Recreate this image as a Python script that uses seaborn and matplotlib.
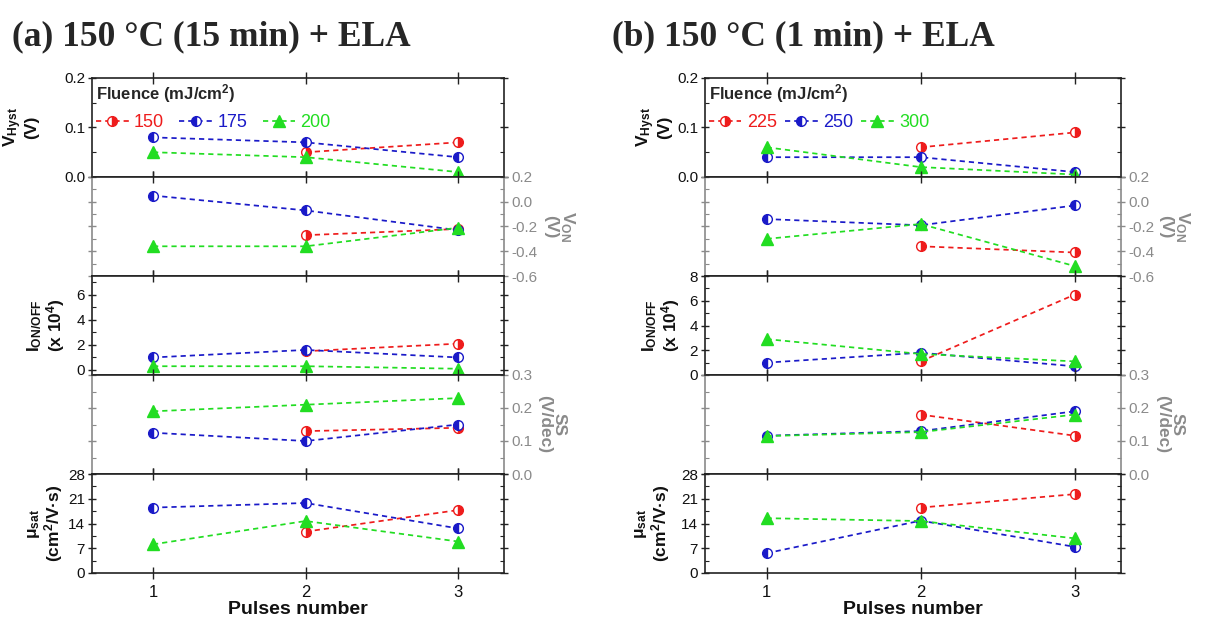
import numpy as np
import pandas as pd
import matplotlib
matplotlib.use("Agg")
import matplotlib.pyplot as plt
from matplotlib.ticker import MultipleLocator
import seaborn as sns

nan = np.nan
pulses = [1, 2, 3]

# ---- (a) 150 C (15 min) + ELA ----
fluence_a = ["150", "175", "200"]
vhyst_a = [[nan, 0.05, 0.07], [0.08, 0.07, 0.04], [0.05, 0.04, 0.01]]
von_a = [[nan, -0.27, -0.22], [0.05, -0.07, -0.23], [-0.36, -0.36, -0.21]]
ionoff_a = [[nan, 1.5, 2.1], [1.0, 1.6, 1.0], [0.3, 0.3, 0.1]]
ss_a = [[nan, 0.13, 0.14], [0.125, 0.10, 0.15], [0.19, 0.21, 0.23]]
mu_a = [[nan, 11.7, 17.8], [18.5, 19.8, 12.6], [8.1, 14.7, 8.9]]

# ---- (b) 150 C (1 min) + ELA ----
fluence_b = ["225", "250", "300"]
vhyst_b = [[nan, 0.06, 0.09], [0.04, 0.04, 0.01], [0.06, 0.02, 0.005]]
von_b = [[nan, -0.36, -0.41], [-0.14, -0.19, -0.03], [-0.30, -0.18, -0.52]]
ionoff_b = [[nan, 1.1, 6.5], [1.0, 1.8, 0.7], [2.9, 1.7, 1.1]]
ss_b = [[nan, 0.18, 0.116], [0.116, 0.13, 0.19], [0.115, 0.127, 0.18]]
mu_b = [[nan, 18.5, 22.3], [5.6, 14.8, 7.4], [15.5, 14.7, 9.8]]

titles = ["(a) 150 \u00b0C (15 min) + ELA", "(b) 150 \u00b0C (1 min) + ELA"]

colors = ["#ee1c1c", "#1a1ac8", "#22dd22"]
GREY = "#8a8a8a"
SPINE = "#222222"

sns.set_theme(style="ticks")
plt.rcParams["font.family"] = ["Liberation Sans", "DejaVu Sans"]
plt.rcParams["mathtext.fontset"] = "custom"
plt.rcParams["mathtext.rm"] = "Liberation Sans"
plt.rcParams["mathtext.bf"] = "Liberation Sans:bold"
plt.rcParams["mathtext.it"] = "Liberation Sans:italic"

W, H = 1207, 621
fig = plt.figure(figsize=(W / 100, H / 100), dpi=100)

tops = [78, 177, 276, 375, 474, 573]
xspans = [(92, 504), (705, 1121)]


def rect(x0, x1, top, bottom):
    return [x0 / W, 1 - bottom / H, (x1 - x0) / W, (bottom - top) / H]


def draw_series(ax, values):
    handles = []
    for i, vals in enumerate(values):
        df = pd.DataFrame({"x": pulses, "y": vals}).dropna()
        c = colors[i]
        if i == 0:
            mk = dict(marker="o", fillstyle="right", markerfacecolor=c,
                      markerfacecoloralt="white", markeredgecolor=c,
                      markersize=7)
        elif i == 1:
            mk = dict(marker="o", fillstyle="left", markerfacecolor=c,
                      markerfacecoloralt="white", markeredgecolor=c,
                      markersize=7)
        else:
            mk = dict(marker="^", markerfacecolor=c, markeredgecolor=c,
                      markersize=8)
        sns.lineplot(data=df, x="x", y="y", ax=ax, color=c, errorbar=None,
                     linestyle=(0, (3, 2.3)), linewidth=1.25,
                     markeredgewidth=1.0, **mk)
        handles.append(ax.lines[-1])
    return handles


panel_specs = {
    "a": dict(fl=fluence_a, data=[vhyst_a, von_a, ionoff_a, ss_a, mu_a],
              ion_lim=(-0.4, 7.5), colsp=0.85,
              lab_left=[53, 0, 25, 0, 27], lab_right=[0, 39, 0, 33, 0]),
    "b": dict(fl=fluence_b, data=[vhyst_b, von_b, ionoff_b, ss_b, mu_b],
              ion_lim=(0, 8), colsp=0.45,
              lab_left=[33, 0, 23, 0, 33], lab_right=[0, 37, 0, 34, 0]),
}

ylabels = [
    "V$_{\\mathbf{Hyst}}$\n(V)",
    "V$_{\\mathbf{ON}}$\n(V)",
    "I$_{\\mathbf{ON/OFF}}$\n(x 10$^{\\mathbf{4}}$)",
    "SS\n(V/dec)",
    "\u03bc$_{\\mathbf{sat}}$\n(cm$^{\\mathbf{2}}$/V\u00b7s)",
]

for col, key in enumerate(["a", "b"]):
    spec = panel_specs[key]
    x0, x1 = xspans[col]
    pw = x1 - x0
    for r in range(5):
        ax = fig.add_axes(rect(x0, x1, tops[r], tops[r + 1]))
        hs = draw_series(ax, spec["data"][r])
        ax.set_xlim(0.6, 3.3)
        ax.set_xticks(pulses)
        right_side = r in (1, 3)
        tcol = GREY if right_side else SPINE
        if r == 0:
            ax.set_ylim(0, 0.2)
            ax.yaxis.set_major_locator(MultipleLocator(0.1))
            ax.yaxis.set_minor_locator(MultipleLocator(0.05))
            ax.yaxis.set_major_formatter(plt.FormatStrFormatter("%.1f"))
        elif r == 1:
            ax.set_ylim(-0.6, 0.2)
            ax.yaxis.set_major_locator(MultipleLocator(0.2))
            ax.yaxis.set_minor_locator(MultipleLocator(0.1))
            ax.yaxis.set_major_formatter(plt.FormatStrFormatter("%.1f"))
        elif r == 2:
            ax.set_ylim(*spec["ion_lim"])
            ax.yaxis.set_major_locator(MultipleLocator(2))
            ax.yaxis.set_minor_locator(MultipleLocator(1))
        elif r == 3:
            ax.set_ylim(0, 0.3)
            ax.yaxis.set_major_locator(MultipleLocator(0.1))
            ax.yaxis.set_minor_locator(MultipleLocator(0.05))
            ax.yaxis.set_major_formatter(plt.FormatStrFormatter("%.1f"))
        else:
            ax.set_ylim(0, 28)
            ax.yaxis.set_major_locator(MultipleLocator(7))
            ax.yaxis.set_minor_locator(MultipleLocator(3.5))

        for s in ["top", "bottom"]:
            ax.spines[s].set_color(SPINE)
            ax.spines[s].set_linewidth(1.2)
        for s in ["left", "right"]:
            ax.spines[s].set_color(tcol)
            ax.spines[s].set_linewidth(1.2)

        ax.tick_params(axis="x", which="major", direction="inout", length=9,
                       width=1.0, top=True, bottom=True, color=SPINE,
                       labelbottom=(r == 4), labelsize=12, pad=4,
                       labelcolor="#111111")
        ax.tick_params(axis="x", which="minor", bottom=False, top=False)
        ax.tick_params(axis="y", which="major", direction="inout", length=6,
                       width=1.0, left=True, right=True, color=tcol,
                       labelleft=not right_side, labelright=right_side,
                       labelsize=11, pad=2,
                       labelcolor=(GREY if right_side else "#111111"))
        ax.tick_params(axis="y", which="minor", direction="in", length=3,
                       width=0.8, left=True, right=True, color=tcol)
        ax.set_xlabel("")
        ax.set_ylabel("")

        if right_side:
            ax.text(1 + spec["lab_right"][r] / pw, 0.5, ylabels[r],
                    transform=ax.transAxes, rotation=270, ha="left",
                    va="center", multialignment="center", fontsize=12.5,
                    fontweight="bold", color=GREY, linespacing=1.0)
        else:
            ax.text(-spec["lab_left"][r] / pw, 0.5, ylabels[r],
                    transform=ax.transAxes, rotation=90, ha="right",
                    va="center", multialignment="center", fontsize=12.5,
                    fontweight="bold", color="#111111", linespacing=1.0)

        if r == 0:
            ax.legend(hs, spec["fl"], ncol=3, loc="upper left",
                      bbox_to_anchor=(4 / pw, 0.96), frameon=False,
                      title="Fluence (mJ/cm$^{\\mathbf{2}}$)",
                      title_fontproperties={"weight": "bold", "size": 12},
                      alignment="left", fontsize=13, handlelength=1.8,
                      handletextpad=0.3, columnspacing=spec["colsp"],
                      borderpad=0, borderaxespad=0, labelcolor="linecolor",
                      numpoints=1)
        if r == 4:
            ax.set_xlabel("Pulses number", fontsize=14, fontweight="bold",
                          labelpad=1, color="#111111")

fig.text(12 / W, 1 - 37 / H, titles[0], family="Liberation Serif",
         fontweight="bold", fontsize=25.5, va="center", ha="left")
fig.text(612 / W, 1 - 37 / H, titles[1], family="Liberation Serif",
         fontweight="bold", fontsize=25.5, va="center", ha="left")

fig.savefig("out.png", dpi=100)
